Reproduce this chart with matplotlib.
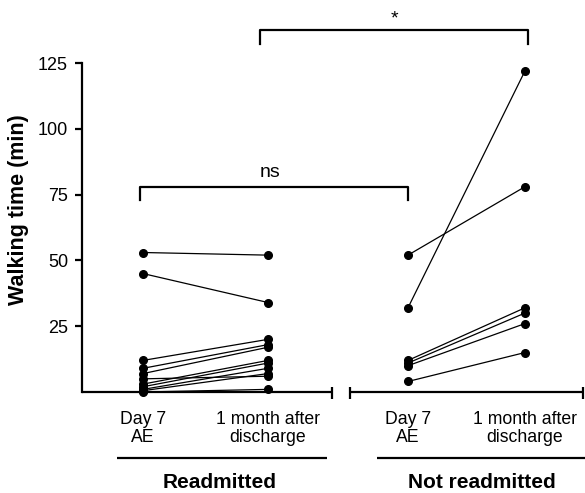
import matplotlib
matplotlib.use("Agg")
import matplotlib.pyplot as plt

plt.rcParams['font.family'] = ['Liberation Sans', 'DejaVu Sans']

# ---- data ----
readm_day7 = [53, 45, 12, 9, 7, 5, 3, 2, 1, 0.5, 0]
readm_1mo = [52, 34, 20, 18, 17, 6, 12, 11, 9, 7, 1]
notreadm_day7 = [52, 32, 12, 11, 10, 4]
notreadm_1mo = [78, 122, 32, 30, 26, 15]
tick_labels = ["Day 7\nAE", "1 month after\ndischarge"]
group_names = ["Readmitted", "Not readmitted"]
yticks = [25, 50, 75, 100, 125]

# ---- layout ----
W, H = 585, 493
fig = plt.figure(figsize=(W / 100, H / 100), dpi=100)
ax = fig.add_axes([82 / W, 1 - 392 / H, (583 - 82) / W, (392 - 63) / H])

x_left = [1.0, 2.0]
x_right = [3.12, 4.056]
ax.set_xlim(0.512, 4.52)
ax.set_ylim(0, 125)

lw_data = 0.9
ms = 5.5
for a, b in zip(readm_day7, readm_1mo):
    ax.plot(x_left, [a, b], color='black', lw=lw_data, marker='o', ms=ms, clip_on=False, zorder=3)
for a, b in zip(notreadm_day7, notreadm_1mo):
    ax.plot(x_right, [a, b], color='black', lw=lw_data, marker='o', ms=ms, clip_on=False, zorder=3)

# spines
for s in ['top', 'right', 'bottom']:
    ax.spines[s].set_visible(False)
ax.spines['left'].set_linewidth(1.6)
ax.set_yticks(yticks)
ax.tick_params(axis='y', direction='out', length=5, width=1.6, labelsize=13, pad=5)

# broken x axis
ax.set_xticks(x_left + x_right)
ax.set_xticklabels(tick_labels * 2, fontsize=12.7, linespacing=1.02)
ax.tick_params(axis='x', length=0, pad=14)
axis_kw = dict(color='black', lw=1.6, clip_on=False, solid_capstyle='butt')
ax.plot([0.512, 2.512], [0, 0], **axis_kw)
ax.plot([2.512, 2.512], [-2.6, 1.9], **axis_kw)
ax.plot([2.656, 4.52], [0, 0], **axis_kw)
ax.plot([2.656, 2.656], [-2.6, 1.9], **axis_kw)
ax.plot([4.52, 4.52], [-2.6, 1.9], **axis_kw)

# group underlines and names
ax.plot([0.792, 2.472], [-25, -25], **axis_kw)
ax.plot([2.872, 4.6], [-25, -25], **axis_kw)
ax.text(1.616, -34.5, group_names[0], ha='center', va='center', fontsize=15, fontweight='bold')
ax.text(3.712, -34.5, group_names[1], ha='center', va='center', fontsize=15, fontweight='bold')

# significance brackets
br_kw = dict(color='black', lw=1.6, clip_on=False)
ax.plot([0.976, 0.976, x_right[0], x_right[0]], [73, 78, 78, 73], **br_kw)
ax.text(2.02, 80, "ns", ha='center', va='bottom', fontsize=14)
ax.plot([1.936, 1.936, 4.08, 4.08], [132.3, 137.4, 137.4, 132.3], **br_kw)
ax.text(3.01, 138.5, "*", ha='center', va='bottom', fontsize=14)

fig.text(19 / W, 1 - 210 / H, "Walking time (min)", rotation=90, ha='center', va='center',
         fontsize=15.5, fontweight='bold')

fig.savefig("out.png", dpi=100)
